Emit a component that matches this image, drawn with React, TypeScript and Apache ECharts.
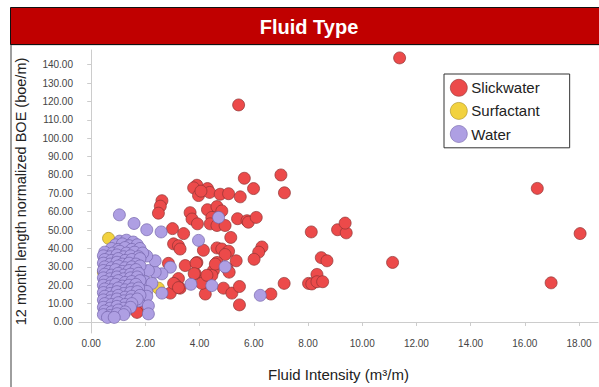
import React, { useEffect, useRef } from "react";
import * as echarts from "echarts";

const seriesNames = ["Slickwater", "Surfactant", "Water"];
const xTicks = [0, 2, 4, 6, 8, 10, 12, 14, 16, 18];
const yTicks = [0, 10, 20, 30, 40, 50, 60, 70, 80, 90, 100, 110, 120, 130, 140];

const slickwater: number[][] = [
  [11.38, 143.7], [5.44, 118.1], [16.46, 72.7], [18.04, 48.1], [16.97, 21.3], [11.12, 32.4],
  [8.12, 49.0], [9.09, 50.2], [9.41, 48.5], [9.37, 53.8], [8.49, 35.0], [8.7, 33.3], [8.33, 25.9],
  [8.02, 21.0], [8.14, 20.7], [8.33, 21.9], [8.54, 21.9], [7.12, 21.0],
  [5.65, 78.2], [7.0, 80.0], [5.99, 72.6], [7.13, 70.3],
  [3.9, 74.4], [3.78, 73.0], [3.96, 68.8], [4.29, 72.6], [4.37, 70.5], [4.05, 71.2], [4.76, 69.5],
  [5.07, 69.8], [5.5, 68.1],
  [2.61, 66.0], [2.55, 63.0], [2.48, 59.2],
  [3.65, 59.5], [3.72, 56.0], [3.92, 53.4], [4.29, 61.1], [4.64, 62.8], [4.82, 60.4], [4.45, 56.9],
  [4.39, 53.4], [4.64, 52.5], [4.94, 52.5],
  [5.4, 56.2], [5.75, 55.1], [5.8, 54.3], [6.09, 56.9],
  [3.0, 50.8], [3.41, 48.1], [5.15, 46.0],
  [3.04, 42.5], [3.22, 41.5], [3.28, 39.7], [4.14, 39.0], [4.64, 40.3], [4.82, 39.7], [5.07, 38.5],
  [6.3, 40.8], [6.18, 38.0], [6.01, 34.1], [4.94, 36.7],
  [5.35, 33.3], [4.64, 32.4], [3.9, 32.4], [3.47, 30.7], [2.85, 31.9], [5.01, 29.2], [4.51, 28.0],
  [3.84, 26.3], [4.21, 23.3], [4.45, 25.4], [3.22, 23.6], [3.1, 20.5], [3.28, 18.4], [2.92, 15.7],
  [4.21, 15.2], [4.88, 18.4], [5.19, 15.7], [5.47, 19.3], [5.47, 9.3], [6.63, 15.2],
  [1.75, 8.8], [1.69, 5.2],
  [3.04, 21.0], [3.22, 18.7], [4.08, 21.0], [4.27, 25.4], [4.58, 31.5], [5.09, 27.1],
  [3.87, 32.0], [3.8, 26.3],
];

const surfactant: number[][] = [
  [0.64, 45.5], [0.89, 40.3], [0.45, 27.1], [2.48, 18.4],
];

const otherType: number[][] = [[1.99, 17.5]];

const water: number[][] = [
  // scattered
  [1.04, 58.3], [1.58, 53.6], [2.05, 50.2], [2.58, 49.0], [3.96, 44.4], [4.7, 56.9], [4.94, 30.0],
  [3.68, 20.5], [4.45, 19.8], [6.24, 14.5], [2.92, 29.8], [2.61, 26.2], [2.36, 27.1], [2.11, 28.0],
  [2.36, 33.3], [1.99, 21.9], [2.24, 21.0], [2.05, 16.6], [2.61, 15.7], [2.05, 14.0], [1.75, 11.4],
  [2.11, 8.8], [2.11, 4.4], [2.05, 35.9],
  // dense cluster
  [1.05, 44], [1.3, 44.5], [1.55, 43.5],
  [0.9, 42], [1.15, 42.5], [1.4, 41.5], [1.7, 42],
  [0.75, 40], [1.0, 39.5], [1.25, 40.5], [1.5, 39.5], [1.8, 40],
  [0.5, 38], [0.8, 37.5], [1.05, 38.5], [1.3, 37.5], [1.6, 38], [1.9, 37.5],
  [0.45, 36], [0.7, 35.5], [0.95, 36.5], [1.2, 35.5], [1.45, 36], [1.75, 35.5],
  [0.5, 34], [0.75, 33.5], [1.0, 34.5], [1.25, 33.5], [1.5, 34], [1.8, 34.5],
  [0.45, 32], [0.7, 31.5], [0.95, 32.5], [1.15, 31.5], [1.4, 32], [1.65, 31.5],
  [0.5, 30], [0.75, 29.5], [1.0, 30.5], [1.25, 29.5], [1.5, 30], [1.8, 30.5],
  [0.45, 28], [0.65, 27.5], [0.9, 28.5], [1.15, 27.5], [1.4, 28], [1.65, 28.5],
  [0.5, 26], [0.75, 25.5], [1.0, 26.5], [1.2, 25.5], [1.45, 26], [1.75, 26.5],
  [0.45, 24], [0.7, 23.5], [0.95, 24.5], [1.2, 23.5], [1.45, 24], [1.7, 24.5],
  [0.5, 22], [0.75, 21.5], [1.0, 22.5], [1.25, 21.5], [1.5, 22], [1.8, 22.5],
  [0.45, 20], [0.7, 19.5], [0.9, 20.5], [1.15, 19.5], [1.4, 20], [1.65, 20.5],
  [0.5, 18], [0.75, 17.5], [1.0, 18.5], [1.25, 17.5], [1.5, 18], [1.75, 18.5],
  [0.45, 16], [0.7, 15.5], [0.95, 16.5], [1.2, 15.5], [1.45, 16], [1.7, 16.5],
  [0.5, 14], [0.75, 13.5], [1.0, 14.5], [1.25, 13.5], [1.5, 14], [1.8, 14.5],
  [0.45, 12], [0.7, 11.5], [0.95, 12.5], [1.2, 11.5], [1.45, 12], [1.7, 12.5],
  [0.5, 10], [0.75, 9.5], [1.0, 10.5], [1.25, 9.5], [1.5, 10],
  [0.45, 8], [0.7, 7.5], [0.95, 8.5], [1.2, 7.5], [1.45, 8],
  [0.5, 6], [0.75, 5.5], [1.0, 6.5], [1.25, 5.5],
  [0.45, 4], [0.7, 3.5], [0.95, 4.5], [1.2, 4],
  [0.6, 2.5], [0.85, 2.5],
];

const FONT = "Liberation Sans, Arial, sans-serif";

export default function App() {
  const ref = useRef<HTMLDivElement>(null);
  useEffect(() => {
    if (!ref.current) return;
    const chart = echarts.init(ref.current, null, { renderer: "svg" });
    const fmt = (v: number) => v.toFixed(2);
    const pointStyle = (fill: string, border: string) => ({
      color: fill,
      borderColor: border,
      borderWidth: 0.7,
      opacity: 1,
    });
    chart.setOption({
      animation: false,
      backgroundColor: "#ffffff",
      graphic: [
        {
          type: "rect",
          shape: { x: 11, y: 44.5, width: 600, height: 400 },
          style: { fill: "none", stroke: "#7f7f7f", lineWidth: 1.5 },
          silent: true,
        },
        {
          type: "rect",
          shape: { x: 10.5, y: 7.5, width: 600, height: 37 },
          style: { fill: "#C00000", stroke: "#111111", lineWidth: 1 },
          silent: true,
        },
        {
          type: "text",
          x: 309,
          y: 27,
          style: {
            text: "Fluid Type",
            fill: "#ffffff",
            font: `bold 20px ${FONT}`,
            textAlign: "center",
            textVerticalAlign: "middle",
          },
          silent: true,
        },
      ],
      grid: { left: 79, right: 1, top: 50, bottom: 44, containLabel: false },
      legend: {
        data: seriesNames,
        orient: "vertical",
        left: 444,
        top: 74,
        width: 108,
        itemWidth: 17,
        itemHeight: 17,
        itemGap: 5.5,
        padding: [5, 30, 5, 6],
        borderColor: "#333333",
        borderWidth: 1,
        backgroundColor: "#ffffff",
        icon: "circle",
        itemStyle: { borderWidth: 0.6 },
        textStyle: { fontSize: 15, color: "#222222", fontFamily: FONT, padding: [0, 0, 0, -1] },
      },
      xAxis: {
        type: "value",
        min: -0.45,
        max: 18.7,
        name: "Fluid Intensity (m³/m)",
        nameLocation: "middle",
        nameGap: 34,
        nameTextStyle: { fontSize: 15, color: "#222222", fontFamily: FONT },
        axisLine: { show: true, lineStyle: { color: "#cccccc" } },
        axisTick: { show: true, length: 4, lineStyle: { color: "#cccccc" }, customValues: xTicks },
        axisLabel: { customValues: xTicks, formatter: fmt, fontSize: 10, color: "#444444", fontFamily: FONT, margin: 5 },
        splitLine: { show: false },
      },
      yAxis: {
        type: "value",
        min: -6,
        max: 148,
        name: "12 month length normalized BOE (boe/m)",
        nameLocation: "middle",
        nameGap: 51,
        nameTextStyle: { fontSize: 14.5, color: "#222222", fontFamily: FONT },
        axisLine: { show: true, lineStyle: { color: "#cccccc" } },
        axisTick: { show: true, length: 4, lineStyle: { color: "#cccccc" }, customValues: yTicks },
        axisLabel: { customValues: yTicks, formatter: fmt, fontSize: 10, color: "#444444", fontFamily: FONT, margin: 6 },
        splitLine: { show: false },
      },
      series: [
        {
          name: "Slickwater",
          type: "scatter",
          symbolSize: 12,
          data: slickwater,
          itemStyle: pointStyle("#EC4A4A", "#8E3434"),
        },
        {
          name: "Surfactant",
          type: "scatter",
          symbolSize: 12,
          data: surfactant,
          itemStyle: pointStyle("#F2D23F", "#A88E22"),
        },
        {
          name: "Other",
          type: "scatter",
          symbolSize: 12,
          data: otherType,
          itemStyle: pointStyle("#3FA77A", "#2B6E52"),
        },
        {
          name: "Water",
          type: "scatter",
          symbolSize: 12,
          data: water,
          itemStyle: pointStyle("#AE9FE3", "#7464AA"),
        },
      ],
    });
    return () => chart.dispose();
  }, []);
  return (
    <div
      ref={ref}
      style={{ position: "absolute", left: 0, top: 0, width: 599, height: 387 }}
    />
  );
}
